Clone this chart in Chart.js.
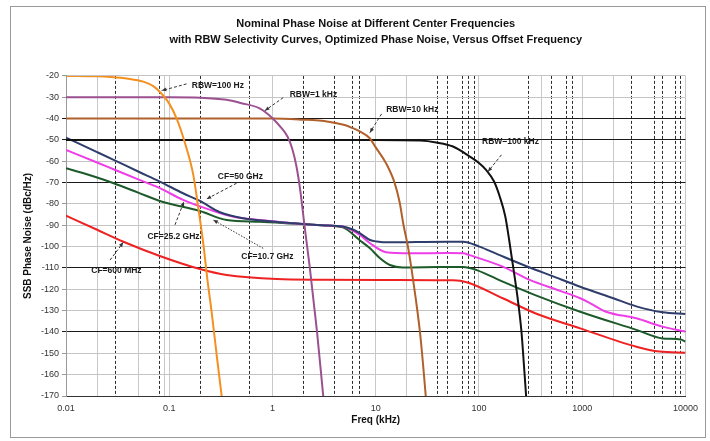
<!DOCTYPE html>
<html>
<head>
<meta charset="utf-8">
<script src="https://cdn.jsdelivr.net/npm/chart.js@4.4.1/dist/chart.umd.min.js"></script>
<style>
  body { margin: 0; background: #fff; }
  #frame { position: absolute; left: 10px; top: 6px; width: 694px; height: 430px; border: 1px solid #9a9a9a; background: #fff; }
  canvas { display: block; }
</style>
</head>
<body>
<div id="frame"><canvas id="noiseChart" width="694" height="430"></canvas></div>
<script>
// RBW selectivity curves (offset in kHz, level in dBc/Hz)
const rbw100Freq  = [0.01, 0.02, 0.027, 0.04, 0.056, 0.07, 0.081, 0.1, 0.118, 0.14, 0.171, 0.19, 0.213, 0.235, 0.258, 0.29, 0.322];
const rbw100Level = [-20, -20.2, -20.5, -21.3, -22.7, -24.8, -27.5, -33, -40, -50.5, -66.4, -81, -98, -116, -131, -152, -170];

const rbw1kFreq  = [0.01, 0.1, 0.2, 0.36, 0.5, 0.75, 1.0, 1.2, 1.4, 1.55, 1.7, 1.85, 2.04, 2.3, 2.7, 3.1];
const rbw1kLevel = [-30, -30, -30.2, -31.2, -32.8, -35.2, -39.8, -44, -48.5, -54, -62, -73, -90, -110, -140, -170];

const rbw10kFreq  = [0.01, 1, 2, 3, 4, 5, 6, 7, 8.75, 10, 12.6, 15.2, 17, 18.6, 20.5, 22.3, 24.5, 26.8, 28.7, 30.5];
const rbw10kLevel = [-40, -40, -40.5, -41, -42, -43, -44.5, -46, -49.2, -53.5, -61, -70, -79, -90, -100, -111, -125, -140, -155, -170];

const rbw100kFreq  = [0.01, 10, 27, 38.5, 56, 81.5, 100, 117, 140, 159, 180, 196, 215, 235, 258, 272, 286];
const rbw100kLevel = [-50, -50, -50.3, -51.2, -53.1, -57.8, -60.8, -64, -69.5, -76.6, -86, -96.9, -110, -123, -140, -155, -170];

// Phase noise at the four center frequencies
const cf50Freq  = [0.01, 0.02, 0.03, 0.05, 0.081, 0.136, 0.198, 0.31, 0.52, 1, 1.58, 3, 4.8, 6, 7, 8.8, 10.2, 13.7, 18, 30, 50, 70, 101, 150, 310, 500, 955, 2000, 3340, 6000, 10000];
const cf50Level = [-48.9, -55.7, -59.7, -64.8, -69.5, -75, -78.6, -83.9, -86.7, -88.2, -89, -90, -90.6, -92, -93.7, -96.9, -97.6, -98, -98, -97.8, -97.7, -97.7, -100, -103.5, -109.8, -113.6, -118.8, -124.2, -128, -130.8, -131.6];

const cf25Freq  = [0.01, 0.02, 0.03, 0.05, 0.081, 0.136, 0.25, 0.42, 0.75, 1.58, 3, 4.8, 7, 8.8, 12.6, 21.5, 50, 70, 81, 170, 310, 600, 955, 1200, 1700, 3340, 6000, 10000];
const cf25Level = [-54.7, -60.6, -64.1, -68.5, -72.6, -78.1, -82.8, -86, -87.5, -89, -90, -90.6, -94.5, -98.4, -102.6, -103.1, -103, -103.1, -104, -109.4, -115.6, -120.6, -124.2, -126.6, -130.5, -133.6, -137.5, -139.8];

const cf10Freq  = [0.01, 0.02, 0.029, 0.05, 0.081, 0.198, 0.36, 0.75, 1.58, 3, 4.8, 7, 8.8, 11, 13.7, 18.2, 40, 70, 95, 170, 350, 955, 3340, 6000, 9000, 10000];
const cf10Level = [-63.3, -67.6, -70.3, -74.7, -78.6, -83.3, -87.5, -88.3, -89.2, -90, -91, -97, -100.8, -105.5, -108.6, -109.8, -109.6, -109.5, -111, -116.4, -122.7, -130.5, -139, -143, -143.5, -144.5];

const cf600Freq  = [0.01, 0.02, 0.036, 0.081, 0.198, 0.36, 1.1, 3, 13.7, 56, 76, 170, 350, 955, 3340, 5600, 10000];
const cf600Level = [-85.5, -92.1, -97.7, -104.4, -110.5, -113.3, -115.2, -115.5, -115.6, -115.8, -116.7, -124.2, -131.2, -138.3, -146.9, -149.2, -149.7];

// axis ticks and grid
const yTicks = [-20, -30, -40, -50, -60, -70, -80, -90, -100, -110, -120, -130, -140, -150, -160, -170];
const yDarkLines = [-40, -50, -70, -110, -140];
const xDecades = [0.01, 0.1, 1, 10, 100, 1000, 10000];
const xSolidGrid = [0.01, 0.02, 0.05, 0.09, 0.1, 1, 10, 20, 100, 400, 1000, 2000, 10000];
const xDashedGrid = [0.03, 0.08, 0.2, 0.6, 2, 4, 6, 7, 40, 50, 70, 80, 90, 300, 500, 700, 800, 3000, 5000, 6000, 8000, 9000];

// callout labels: text, label position, leader line from / to (kHz, dBc/Hz)
const calloutText = ['RBW=100 Hz', 'RBW=1 kHz', 'RBW=10 kHz', 'RBW=100 kHz', 'CF=50 GHz', 'CF=25.2 GHz', 'CF=10.7 GHz', 'CF=600 MHz'];
const calloutAt   = [[0.296, -24.5], [2.49, -28.9], [22.6, -35.6], [202, -50.8], [0.489, -67.2], [0.11, -95.3], [0.892, -104.7], [0.0308, -111.3]];
const leaderFrom  = [[0.147, -23.75], [1.27, -30.2], [11.4, -37.8], [165, -57], [0.449, -70.3], [0.1136, -89.8], [0.813, -100.8], [0.0267, -106.3]];
const leaderTo    = [[0.0844, -26.9], [0.843, -36.3], [8.77, -46.6], [122, -64.9], [0.23, -77.7], [0.139, -78.9], [0.267, -87.5], [0.0359, -98]];

const toPoints = (xs, ys) => xs.map((f, i) => ({ x: f, y: ys[i] }));
const gridFreqs = [...xSolidGrid, ...xDashedGrid].sort((a, b) => a - b);
const FONT = '"Liberation Sans", Arial, sans-serif';

const calloutPlugin = {
    id: 'callouts',
    afterDatasetsDraw(chart) {
        const { ctx, scales: { x, y } } = chart;
        ctx.save();
        ctx.font = 'bold 8.5px ' + FONT;
        ctx.textAlign = 'center';
        ctx.textBaseline = 'middle';
        calloutText.forEach((txt, i) => {
            ctx.fillStyle = '#1a1a1a';
            ctx.fillText(txt, x.getPixelForValue(calloutAt[i][0]), y.getPixelForValue(calloutAt[i][1]));
            const x0 = x.getPixelForValue(leaderFrom[i][0]), y0 = y.getPixelForValue(leaderFrom[i][1]);
            const x1 = x.getPixelForValue(leaderTo[i][0]), y1 = y.getPixelForValue(leaderTo[i][1]);
            ctx.strokeStyle = '#333';
            ctx.lineWidth = 1;
            ctx.setLineDash(i === 6 ? [1.5, 1.5] : [3, 2]);
            ctx.beginPath();
            ctx.moveTo(x0, y0);
            ctx.lineTo(x1, y1);
            ctx.stroke();
            // small arrow head where the leader meets the curve
            const a = Math.atan2(y1 - y0, x1 - x0);
            ctx.setLineDash([]);
            ctx.fillStyle = '#333';
            ctx.beginPath();
            ctx.moveTo(x1, y1);
            ctx.lineTo(x1 - 5 * Math.cos(a - 0.4), y1 - 5 * Math.sin(a - 0.4));
            ctx.lineTo(x1 - 5 * Math.cos(a + 0.4), y1 - 5 * Math.sin(a + 0.4));
            ctx.closePath();
            ctx.fill();
        });
        ctx.restore();
    }
};

const line = (label, xs, ys, color, width) => ({
    label: label,
    data: toPoints(xs, ys),
    borderColor: color,
    backgroundColor: color,
    borderWidth: width,
    pointRadius: 0,
    cubicInterpolationMode: 'monotone',
    fill: false
});

new Chart(document.getElementById('noiseChart').getContext('2d'), {
    type: 'line',
    data: {
        datasets: [
            line('RBW=100 Hz', rbw100Freq, rbw100Level, '#f39020', 2),
            line('RBW=1 kHz', rbw1kFreq, rbw1kLevel, '#9b508f', 2),
            line('RBW=10 kHz', rbw10kFreq, rbw10kLevel, '#b0602a', 2),
            line('RBW=100 kHz', rbw100kFreq, rbw100kLevel, '#111111', 2),
            line('CF=50 GHz', cf50Freq, cf50Level, '#2e3d6b', 2),
            line('CF=25.2 GHz', cf25Freq, cf25Level, '#ee3ee8', 2),
            line('CF=10.7 GHz', cf10Freq, cf10Level, '#1d5a2a', 2),
            line('CF=600 MHz', cf600Freq, cf600Level, '#ee2222', 2)
        ]
    },
    options: {
        responsive: false,
        animation: false,
        devicePixelRatio: 1,
        layout: { padding: { left: 0, right: 19, top: 0, bottom: 0 } },
        plugins: {
            legend: { display: false },
            tooltip: { enabled: false },
            title: {
                display: true,
                fullSize: false,
                text: ['Nominal Phase Noise at Different Center Frequencies',
                       'with RBW Selectivity Curves, Optimized Phase Noise, Versus Offset Frequency'],
                color: '#111',
                font: { family: FONT, size: 11, weight: 'bold', lineHeight: 1.45 },
                padding: { top: 9, bottom: 28 }
            }
        },
        scales: {
            x: {
                type: 'logarithmic',
                min: 0.01,
                max: 10000,
                afterBuildTicks: (scale) => { scale.ticks = gridFreqs.map(v => ({ value: v })); },
                afterFit: (scale) => { scale.height = 41; },
                ticks: {
                    autoSkip: false,
                    maxRotation: 0,
                    padding: 7,
                    color: '#333',
                    font: { family: FONT, size: 9 },
                    callback: (v) => xDecades.includes(v) ? String(v) : ''
                },
                grid: {
                    drawTicks: false,
                    lineWidth: 1,
                    color: (ctx) => (ctx.tick && xDashedGrid.includes(ctx.tick.value)) ? '#2a2a2a' : '#c8c8c8'
                },
                border: {
                    color: '#333',
                    dash: (ctx) => (ctx.tick && xDashedGrid.includes(ctx.tick.value)) ? [3, 2] : []
                },
                title: {
                    display: true,
                    text: 'Freq (kHz)',
                    color: '#111',
                    font: { family: FONT, size: 10, weight: 'bold' },
                    padding: { top: 0, bottom: 11 }
                }
            },
            y: {
                min: -170,
                max: -20,
                afterBuildTicks: (scale) => { scale.ticks = yTicks.map(v => ({ value: v })); },
                afterFit: (scale) => { scale.width = 55; },
                ticks: {
                    padding: 3,
                    color: '#333',
                    font: { family: FONT, size: 9 },
                    callback: (v) => String(v)
                },
                grid: {
                    tickLength: 4,
                    lineWidth: 1,
                    color: (ctx) => (ctx.tick && yDarkLines.includes(ctx.tick.value)) ? '#1a1a1a' : '#c4c4c4',
                    tickColor: (ctx) => (ctx.tick && yDarkLines.includes(ctx.tick.value)) ? '#1a1a1a' : '#999'
                },
                border: { color: '#9a9a9a' },
                title: {
                    display: true,
                    text: 'SSB Phase Noise (dBc/Hz)',
                    color: '#111',
                    font: { family: FONT, size: 10, weight: 'bold' },
                    padding: { top: 11, bottom: 0 }
                }
            }
        }
    },
    plugins: [calloutPlugin]
});
</script>
</body>
</html>
